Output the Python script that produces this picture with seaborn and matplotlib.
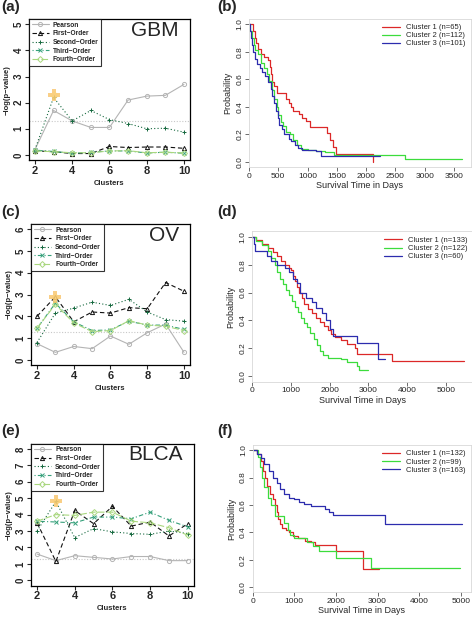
# -*- coding: utf-8 -*-
"""
Figura: significancia por numero de clusters e curvas de sobrevida (GBM, OV, BLCA).
"""

import matplotlib
matplotlib.use("Agg")
import matplotlib.pyplot as plt
import seaborn as sns

# ---------------- dados: -log(p-value) por numero de clusters ----------------
clusters = [2, 3, 4, 5, 6, 7, 8, 9, 10]
series_names = ["Pearson", "First\u2212Order", "Second\u2212Order", "Third\u2212Order", "Fourth\u2212Order"]

gbm_pearson = [0.2, 1.7, 1.3, 1.05, 1.05, 2.1, 2.25, 2.28, 2.7]
gbm_first = [0.15, 0.12, 0.05, 0.05, 0.32, 0.28, 0.3, 0.3, 0.25]
gbm_second = [0.2, 2.2, 1.3, 1.7, 1.35, 1.2, 1.0, 1.02, 0.87]
gbm_third = [0.18, 0.13, 0.06, 0.1, 0.15, 0.15, 0.07, 0.1, 0.06]
gbm_fourth = [0.15, 0.12, 0.08, 0.08, 0.15, 0.16, 0.08, 0.1, 0.07]

ov_pearson = [0.75, 0.35, 0.62, 0.52, 1.1, 0.72, 1.25, 1.65, 0.35]
ov_first = [2.0, 2.9, 1.75, 2.2, 2.15, 2.4, 2.35, 3.55, 3.15]
ov_second = [0.8, 2.15, 2.38, 2.65, 2.5, 2.78, 2.2, 1.85, 1.78]
ov_third = [1.45, 2.6, 1.75, 1.35, 1.38, 1.78, 1.6, 1.6, 1.4]
ov_fourth = [1.45, 2.55, 1.7, 1.3, 1.35, 1.8, 1.6, 1.55, 1.35]

blca_pearson = [1.6, 1.2, 1.5, 1.4, 1.3, 1.45, 1.45, 1.2, 1.2]
blca_first = [3.5, 1.15, 4.25, 3.45, 4.5, 3.3, 3.55, 2.7, 3.45]
blca_second = [3.0, 4.8, 2.6, 3.15, 2.95, 2.85, 2.8, 3.0, 2.85]
blca_third = [3.6, 3.55, 3.5, 3.85, 3.85, 3.75, 4.15, 3.65, 3.25]
blca_fourth = [3.6, 4.0, 3.95, 4.15, 4.15, 3.6, 3.5, 3.2, 2.75]

# ponto destacado (k escolhido) e limiar p = 0.05
best_k = 3
gbm_best, ov_best, blca_best = 2.3, 2.9, 4.8
threshold = 1.301

# ---------------- dados: curvas de Kaplan-Meier ----------------
gbm_t1 = [0, 75, 95, 120, 150, 200, 260, 330, 360, 380, 400, 430, 470, 640, 680, 720, 760, 850, 900, 980, 1050, 1340, 1380, 1430, 1490, 2110]
gbm_s1 = [1.0, 0.95, 0.9, 0.86, 0.82, 0.78, 0.76, 0.74, 0.69, 0.64, 0.58, 0.55, 0.5, 0.46, 0.43, 0.4, 0.37, 0.35, 0.32, 0.3, 0.25, 0.21, 0.16, 0.11, 0.055, 0.0]
gbm_t2 = [0, 20, 50, 80, 110, 150, 200, 250, 300, 350, 400, 430, 470, 500, 540, 580, 640, 700, 760, 820, 880, 1000, 1150, 1300, 1450, 2670, 3640]
gbm_s2 = [1.0, 0.95, 0.9, 0.85, 0.81, 0.78, 0.72, 0.68, 0.64, 0.59, 0.52, 0.46, 0.4, 0.34, 0.29, 0.26, 0.22, 0.2, 0.16, 0.12, 0.095, 0.09, 0.08, 0.07, 0.05, 0.025, 0.025]
gbm_t3 = [0, 15, 30, 50, 70, 100, 130, 180, 230, 280, 330, 370, 400, 430, 460, 490, 520, 560, 600, 680, 720, 780, 840, 900, 1150, 1230, 2240]
gbm_s3 = [1.0, 0.95, 0.9, 0.85, 0.8, 0.75, 0.71, 0.68, 0.65, 0.62, 0.58, 0.53, 0.48, 0.43, 0.37, 0.32, 0.27, 0.24, 0.2, 0.17, 0.15, 0.12, 0.1, 0.09, 0.08, 0.04, 0.04]
gbm_labels = ["Cluster 1 (n=65)", "Cluster 2 (n=112)", "Cluster 3 (n=101)"]

ov_t1 = [0, 100, 250, 400, 550, 650, 750, 850, 950, 1000, 1050, 1100, 1150, 1200, 1280, 1350, 1450, 1550, 1650, 1750, 1850, 1950, 2050, 2150, 2300, 2450, 2650, 2700, 3620, 5480]
ov_s1 = [1.0, 0.98, 0.95, 0.92, 0.89, 0.86, 0.83, 0.8, 0.78, 0.76, 0.72, 0.68, 0.64, 0.6, 0.56, 0.52, 0.48, 0.45, 0.42, 0.39, 0.36, 0.33, 0.3, 0.28, 0.26, 0.23, 0.2, 0.16, 0.11, 0.11]
ov_t2 = [0, 100, 250, 400, 500, 580, 650, 720, 800, 880, 950, 1020, 1100, 1180, 1260, 1350, 1420, 1500, 1600, 1680, 1750, 1820, 1950, 2300, 2450, 2700, 2750, 2980]
ov_s2 = [1.0, 0.97, 0.94, 0.9, 0.85, 0.8, 0.75, 0.7, 0.66, 0.62, 0.58, 0.54, 0.5, 0.46, 0.42, 0.38, 0.35, 0.31, 0.27, 0.22, 0.18, 0.15, 0.13, 0.12, 0.1, 0.07, 0.04, 0.04]
ov_t3 = [0, 40, 80, 380, 500, 650, 850, 950, 1050, 1150, 1250, 1400, 1550, 1650, 1800, 1900, 2000, 2100, 2720, 3260, 3430]
ov_s3 = [1.0, 0.95, 0.9, 0.86, 0.83, 0.8, 0.78, 0.75, 0.7, 0.67, 0.6, 0.56, 0.53, 0.49, 0.45, 0.4, 0.34, 0.29, 0.24, 0.12, 0.12]
ov_labels = ["Cluster 1 (n=133)", "Cluster 2 (n=122)", "Cluster 3 (n=60)"]

blca_t1 = [0, 100, 200, 260, 300, 350, 420, 480, 540, 580, 620, 660, 700, 800, 880, 960, 1100, 1250, 1400, 1500, 2000, 2660, 3030]
blca_s1 = [1.0, 0.97, 0.92, 0.85, 0.8, 0.74, 0.68, 0.64, 0.6, 0.55, 0.5, 0.46, 0.43, 0.42, 0.4, 0.37, 0.36, 0.34, 0.33, 0.31, 0.265, 0.135, 0.135]
blca_t2 = [0, 120, 180, 230, 280, 360, 450, 540, 760, 840, 900, 1000, 1300, 1450, 1600, 2000, 2840, 4980]
blca_s2 = [1.0, 0.95, 0.88, 0.8, 0.73, 0.65, 0.6, 0.52, 0.47, 0.42, 0.38, 0.36, 0.33, 0.3, 0.26, 0.21, 0.14, 0.14]
blca_t3 = [0, 96, 200, 280, 400, 500, 576, 656, 760, 864, 1000, 1120, 1240, 1400, 1680, 1736, 1824, 1920, 3184, 5040]
blca_s3 = [1.0, 0.97, 0.94, 0.9, 0.85, 0.8, 0.76, 0.72, 0.68, 0.65, 0.64, 0.62, 0.61, 0.595, 0.59, 0.57, 0.55, 0.53, 0.46, 0.46]
blca_labels = ["Cluster 1 (n=132)", "Cluster 2 (n=99)", "Cluster 3 (n=163)"]

# estilo das series (cores, tracos, marcadores)
serie_cores = ["#b4b4b4", "#111111", "#16693f", "#35a07a", "#a9d77e"]
serie_tracos = ["-", (0, (4, 2.5)), (0, (1, 2)), (0, (1, 2, 4, 2)), (0, (6, 2))]
serie_marcas = ["o", "^", "+", "x", "D"]
km_cores = ["#dc2828", "#3cdc3c", "#2c2cae"]

sns.set_style("ticks")
plt.rcParams["font.family"] = ["Liberation Sans", "DejaVu Sans"]


def painel_clusters(ax, valores, destaque, ymax, nome):
    """Desenha o painel de -log(p-value) versus numero de clusters."""
    handles = []
    for vals, nome_s, cor, traco, marca in zip(valores, series_names, serie_cores, serie_tracos, serie_marcas):
        sns.lineplot(x=clusters, y=vals, ax=ax, color=cor, linestyle=traco, linewidth=0.8,
                     marker=marca, markersize=3.0, markerfacecolor="none",
                     markeredgecolor=cor, markeredgewidth=0.7, label=nome_s, legend=False)
        handles.append(ax.lines[-1])
    ax.axhline(threshold, color="#c8c8c8", linestyle=(0, (1, 1.5)), linewidth=0.8, zorder=0)
    # destaque do k escolhido
    ax.scatter([best_k], [destaque], marker="P", s=70, color="#f8c060", alpha=0.75, zorder=5, linewidths=0)
    ax.scatter([best_k], [destaque], marker="D", s=22, color="#fbd27a", alpha=0.6, zorder=5, linewidths=0)

    ax.set_xlim(1.68, 10.32)
    pad = ymax * 0.04
    ax.set_ylim(-pad, ymax + pad)
    ax.set_xticks([2, 4, 6, 8, 10])
    ax.set_yticks(range(0, ymax + 1))
    ax.tick_params(axis="x", labelsize=8, length=3, width=0.8, pad=1)
    ax.tick_params(axis="y", labelsize=7, length=3, width=0.8, pad=1)
    for lab in ax.get_xticklabels() + ax.get_yticklabels():
        lab.set_fontweight("bold")
    for lab in ax.get_yticklabels():
        lab.set_rotation(90)
        lab.set_va("center")
    for sp in ax.spines.values():
        sp.set_visible(True)
        sp.set_linewidth(0.9)
        sp.set_color("black")
    ax.set_xlabel("Clusters", fontsize=5.5, fontweight="bold", labelpad=3)
    ax.set_ylabel("\u2212log(p\u2212value)", fontsize=5.5, fontweight="bold", labelpad=2)
    ax.text(0.93, 0.92, nome, transform=ax.transAxes, ha="right", va="center", fontsize=15)
    leg = ax.legend(handles=handles, labels=series_names, loc="upper left",
                    frameon=True, fancybox=False, borderaxespad=0, handlelength=2.6,
                    handletextpad=0.6, labelspacing=0.25, borderpad=0.4, prop={"weight": "bold", "size": 4.8})
    leg.get_frame().set_edgecolor("black")
    leg.get_frame().set_linewidth(0.8)


def painel_sobrevida(ax, tempos, probs, rotulos, xmax, xticks):
    """Desenha as curvas de Kaplan-Meier de cada cluster."""
    for t, s, cor, rot in zip(tempos, probs, km_cores, rotulos):
        sns.lineplot(x=t, y=s, ax=ax, color=cor, linewidth=0.9, drawstyle="steps-post",
                     label=rot, legend=False, estimator=None)
    ax.set_xlim(0, xmax)
    ax.set_ylim(-0.04, 1.04)
    ax.set_xticks(xticks)
    ax.set_yticks([0, 0.2, 0.4, 0.6, 0.8, 1.0])
    ax.set_yticklabels(["0.0", "0.2", "0.4", "0.6", "0.8", "1.0"])
    ax.tick_params(labelsize=6, length=3, width=0.6, pad=1, color="#555555")
    for lab in ax.get_yticklabels():
        lab.set_rotation(90)
        lab.set_va("center")
    for sp in ax.spines.values():
        sp.set_visible(True)
        sp.set_linewidth(0.6)
        sp.set_color("#d8d8d8")
    ax.set_xlabel("Survival Time in Days", fontsize=6.5, labelpad=1)
    ax.set_ylabel("Probability", fontsize=6.5, labelpad=3)
    ax.legend(loc="upper right", fontsize=5.5, frameon=False, handlelength=2.4,
              labelspacing=0.1, borderaxespad=0.3)


fig = plt.figure(figsize=(4.72, 6.18), dpi=100)

ax_a = fig.add_axes([0.0614, 0.741, 0.341, 0.228])
ax_b = fig.add_axes([0.5275, 0.729, 0.470, 0.241])
ax_c = fig.add_axes([0.0659, 0.409, 0.3364, 0.2288])
ax_d = fig.add_axes([0.534, 0.3825, 0.468, 0.243])
ax_e = fig.add_axes([0.0657, 0.0524, 0.345, 0.2298])
ax_f = fig.add_axes([0.535, 0.0413, 0.4625, 0.239])

painel_clusters(ax_a, [gbm_pearson, gbm_first, gbm_second, gbm_third, gbm_fourth], gbm_best, 5, "GBM")
painel_clusters(ax_c, [ov_pearson, ov_first, ov_second, ov_third, ov_fourth], ov_best, 6, "OV")
painel_clusters(ax_e, [blca_pearson, blca_first, blca_second, blca_third, blca_fourth], blca_best, 8, "BLCA")

painel_sobrevida(ax_b, [gbm_t1, gbm_t2, gbm_t3], [gbm_s1, gbm_s2, gbm_s3], gbm_labels,
                 3788, [0, 500, 1000, 1500, 2000, 2500, 3000, 3500])
painel_sobrevida(ax_d, [ov_t1, ov_t2, ov_t3], [ov_s1, ov_s2, ov_s3], ov_labels,
                 5700, [0, 1000, 2000, 3000, 4000, 5000])
painel_sobrevida(ax_f, [blca_t1, blca_t2, blca_t3], [blca_s1, blca_s2, blca_s3], blca_labels,
                 5240, [0, 1000, 2000, 3000, 4000, 5000])

# rotulos dos paineis
for letra, x, y in [("(a)", 0.002, 0.988), ("(b)", 0.46, 0.988), ("(c)", 0.002, 0.657),
                    ("(d)", 0.46, 0.657), ("(e)", 0.002, 0.303), ("(f)", 0.46, 0.303)]:
    fig.text(x, y, letra, fontsize=11, fontweight="bold", va="center", ha="left")

fig.savefig("out.png", dpi=100)
plt.close(fig)
